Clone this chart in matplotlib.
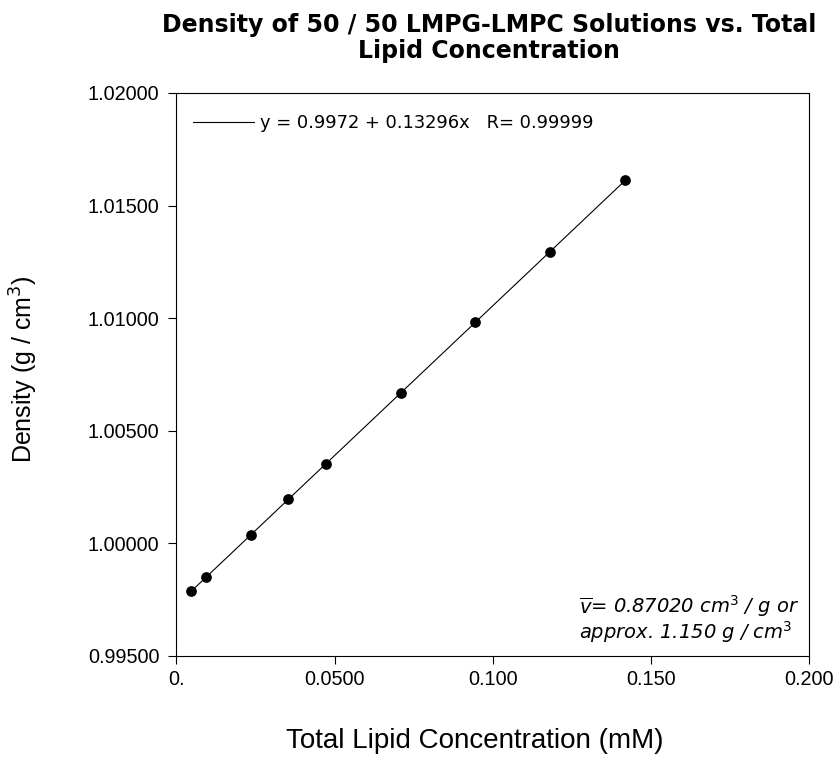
import matplotlib
matplotlib.use("Agg")
import matplotlib.pyplot as plt
import numpy as np

# concentration (mM) and density (g/cm3)
conc = [0.0047, 0.0094, 0.0236, 0.0354, 0.0472, 0.0709, 0.0945, 0.1181, 0.1418]
density = [0.99789, 0.99848, 1.00036, 1.00195, 1.00351, 1.00666, 1.00982, 1.01295, 1.01613]

xticks = [0.0, 0.05, 0.10, 0.15, 0.20]
xticklabels = ["0.", "0.0500", "0.100", "0.150", "0.200"]
yticks = [0.995, 1.000, 1.005, 1.010, 1.015, 1.020]
yticklabels = ["0.99500", "1.00000", "1.00500", "1.01000", "1.01500", "1.02000"]

fit_label = "y = 0.9972 + 0.13296x   R= 0.99999"
title_lines = ["Density of 50 / 50 LMPG-LMPC Solutions vs. Total", "Lipid Concentration"]
note_lines = [r"$\overline{v}$= 0.87020 cm$^{\mathit{3}}$ / g or",
              r"approx. 1.150 g / cm$^{\mathit{3}}$"]

plt.rcParams["font.family"] = ["Liberation Sans", "DejaVu Sans"]

fig = plt.figure(figsize=(8.39, 7.59), dpi=100)
ax = fig.add_axes([0.2101, 0.1361, 0.7547, 0.7414])

# fitted line through the data
coef = np.polyfit(conc, density, 1)
xs = np.array([conc[0], conc[-1]])
ax.plot(xs, np.polyval(coef, xs), color="black", lw=0.8, label=fit_label)
ax.plot(conc, density, "o", color="black", ms=6.7)

ax.set_xlim(0, 0.2)
ax.set_ylim(0.995, 1.020)
ax.set_xticks(xticks)
ax.set_xticklabels(xticklabels)
ax.set_yticks(yticks)
ax.set_yticklabels(yticklabels)
ax.tick_params(direction="out", length=6, width=0.8, labelsize=14.3)
ax.tick_params(axis="x", pad=4)
ax.tick_params(axis="y", pad=6)
for s in ax.spines.values():
    s.set_linewidth(0.8)

ax.legend(loc="upper left", bbox_to_anchor=(-0.007, 1.0), frameon=False,
          prop={"family": "DejaVu Sans", "size": 12.9},
          handlelength=3.4, handletextpad=0.35, borderaxespad=0.78)

ax.set_xlabel("Total Lipid Concentration (mM)", fontsize=20)
ax.xaxis.set_label_coords(0.4717, -0.129)
ax.set_ylabel("Density (g / cm$^3$)", fontsize=18)
ax.yaxis.set_label_coords(-0.215, 0.51)

fig.text(0.583, 0.9582, title_lines[0], ha="center", va="baseline",
         fontsize=17, fontweight="bold", family="DejaVu Sans")
fig.text(0.583, 0.9232, title_lines[1], ha="center", va="baseline",
         fontsize=17, fontweight="bold", family="DejaVu Sans")

ax.text(0.636, 0.0759, note_lines[0], transform=ax.transAxes, ha="left", va="baseline",
        fontsize=14, family="DejaVu Sans", style="italic")
ax.text(0.636, 0.0309, note_lines[1], transform=ax.transAxes, ha="left", va="baseline",
        fontsize=14, family="DejaVu Sans", style="italic")

fig.savefig("out.png", dpi=100)
